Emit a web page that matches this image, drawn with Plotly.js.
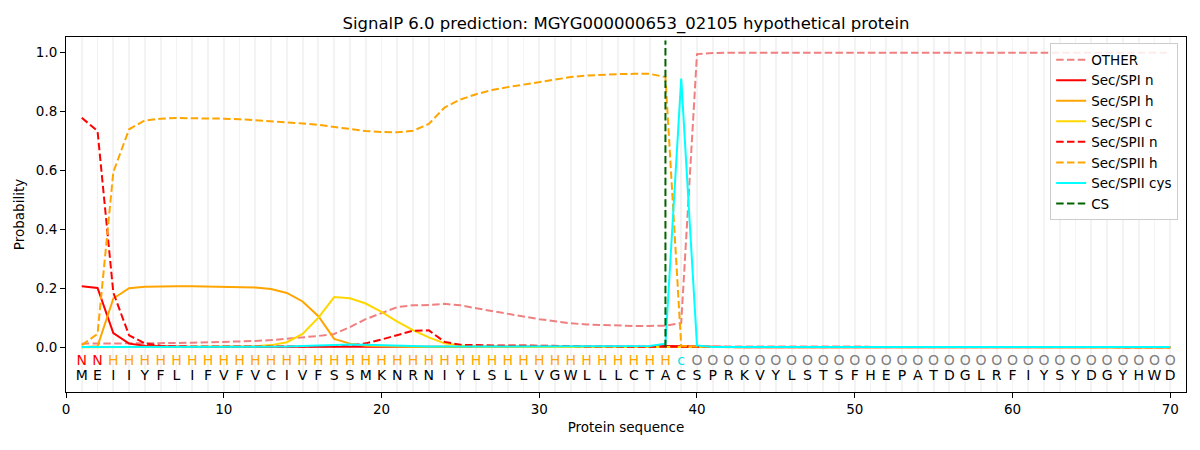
<!DOCTYPE html>
<html>
<head>
<meta charset="utf-8">
<script src="https://cdn.plot.ly/plotly-3.0.1.min.js"></script>
<style>html,body{margin:0;padding:0;background:#fff;}#chart{width:1200px;height:450px;}</style>
</head>
<body>
<div id="chart"></div>
<script>
const sequence = ["M","E","I","I","Y","F","L","I","F","V","F","V","C","I","V","F","S","S","M","K","N","R","N","I","Y","L","S","L","L","V","G","W","L","L","L","C","T","A","C","S","P","R","K","V","Y","L","S","T","S","F","H","E","P","A","T","D","G","L","R","F","I","Y","S","Y","D","G","Y","H","W","D"];
const regionLabels = ["N","N","H","H","H","H","H","H","H","H","H","H","H","H","H","H","H","H","H","H","H","H","H","H","H","H","H","H","H","H","H","H","H","H","H","H","H","H","c","O","O","O","O","O","O","O","O","O","O","O","O","O","O","O","O","O","O","O","O","O","O","O","O","O","O","O","O","O","O","O"];
const labelColors = {"N":"#ff0000","H":"#ffa500","c":"#00e5ee","O":"#808080"};

const other = [0.012,0.012,0.012,0.012,0.012,0.013,0.014,0.015,0.016,0.017,0.018,0.021,0.024,0.028,0.033,0.038,0.045,0.068,0.095,0.116,0.136,0.142,0.143,0.147,0.142,0.132,0.122,0.113,0.104,0.095,0.087,0.081,0.077,0.075,0.073,0.072,0.072,0.073,0.082,0.994,0.998,0.999,0.999,0.999,0.999,0.999,0.999,0.999,0.999,0.999,0.999,0.999,0.999,0.999,0.999,0.999,0.999,0.999,0.999,0.999,0.999,0.999,0.999,0.999,0.999,0.999,0.999,0.999,0.999,0.999];
const spiN = [0.207,0.201,0.048,0.012,0.005,0.003,0.002,0.001,0.001,0.001,0.001,0.001,0.001,0.001,0.001,0.001,0.001,0.001,0.001,0.001,0.001,0.001,0.001,0.001,0.001,0.001,0.001,0.001,0.001,0.001,0.001,0.001,0.001,0.001,0.001,0.001,0.002,0.004,0.003,0.001,0,0,0,0,0,0,0,0,0,0,0,0,0,0,0,0,0,0,0,0,0,0,0,0,0,0,0,0,0,0];
const spiH = [0.0,0.003,0.165,0.2,0.205,0.207,0.207,0.207,0.206,0.205,0.204,0.202,0.197,0.184,0.155,0.105,0.028,0.012,0.005,0.003,0.002,0.001,0.001,0.001,0.001,0.001,0.001,0.001,0.001,0.001,0.001,0.001,0.001,0.001,0.001,0.001,0.001,0.001,0,0,0,0,0,0,0,0,0,0,0,0,0,0,0,0,0,0,0,0,0,0,0,0,0,0,0,0,0,0,0,0];
const spiC = [0,0,0,0,0.001,0.001,0.001,0.001,0.001,0.001,0.002,0.003,0.007,0.017,0.045,0.1,0.17,0.166,0.148,0.12,0.087,0.058,0.033,0.013,0.006,0.003,0.002,0.001,0.001,0.001,0.001,0.001,0.001,0.001,0.001,0.001,0.001,0.001,0.001,0,0,0,0,0,0,0,0,0,0,0,0,0,0,0,0,0,0,0,0,0,0,0,0,0,0,0,0,0,0,0];
const spiiN = [0.778,0.733,0.185,0.04,0.013,0.005,0.003,0.002,0.002,0.002,0.002,0.002,0.002,0.002,0.002,0.002,0.003,0.006,0.013,0.026,0.04,0.056,0.057,0.018,0.008,0.006,0.006,0.006,0.006,0.006,0.006,0.004,0.002,0.002,0.002,0.002,0.002,0.002,0.001,0,0,0,0,0,0,0,0,0,0,0,0,0,0,0,0,0,0,0,0,0,0,0,0,0,0,0,0,0,0,0];
const spiiH = [0.007,0.045,0.594,0.739,0.769,0.775,0.777,0.777,0.776,0.775,0.773,0.77,0.767,0.764,0.759,0.754,0.747,0.739,0.733,0.73,0.729,0.734,0.757,0.813,0.84,0.858,0.872,0.882,0.891,0.9,0.909,0.916,0.921,0.924,0.926,0.927,0.927,0.916,0.005,0.002,0,0,0,0,0,0,0,0,0,0,0,0,0,0,0,0,0,0,0,0,0,0,0,0,0,0,0,0,0,0];
const spiiCys = [0.001,0.001,0.001,0.001,0.001,0.001,0.001,0.001,0.001,0.001,0.001,0.001,0.001,0.002,0.004,0.006,0.008,0.009,0.008,0.006,0.004,0.003,0.002,0.002,0.002,0.002,0.002,0.002,0.002,0.002,0.002,0.002,0.002,0.002,0.002,0.002,0.004,0.012,0.911,0.006,0.001,0.001,0.001,0.001,0.001,0.001,0.001,0.001,0.001,0.001,0.001,0.001,0.001,0.001,0.001,0.001,0.001,0.001,0.001,0.001,0.001,0.001,0.001,0.001,0.001,0.001,0.001,0.001,0.001,0.001];
const csPosition = 38;
const csTop = 1.04;

const positions = sequence.map((_, i) => i + 1);
const DASH = "7.5px,3.3px";

function line(name, y, color, dash) {
  return {x: positions, y: y, name: name, type: "scatter", mode: "lines",
    line: {color: color, width: 2, dash: dash || "solid"}, hoverinfo: "skip"};
}

const traces = [
  line("OTHER", other, "#f08080", DASH),
  line("Sec/SPI n", spiN, "#ff0000"),
  line("Sec/SPI h", spiH, "#ffa500"),
  line("Sec/SPI c", spiC, "#ffd700"),
  line("Sec/SPII n", spiiN, "#ff0000", DASH),
  line("Sec/SPII h", spiiH, "#ffa500", DASH),
  line("Sec/SPII cys", spiiCys, "#00ffff"),
  {x: [csPosition, csPosition], y: [0, csTop], name: "CS", type: "scatter", mode: "lines",
    line: {color: "#006400", width: 2, dash: DASH}, hoverinfo: "skip"},
  {x: positions, y: positions.map(() => -0.05), text: regionLabels, type: "scatter", mode: "text",
    textposition: "middle center", showlegend: false, hoverinfo: "skip",
    textfont: {family: "DejaVu Sans", size: 14, color: regionLabels.map(l => labelColors[l])}},
  {x: positions, y: positions.map(() => -0.10), text: sequence, type: "scatter", mode: "text",
    textposition: "middle center", showlegend: false, hoverinfo: "skip",
    textfont: {family: "DejaVu Sans", size: 14, color: "#000000"}}
];

const layout = {
  width: 1200, height: 450,
  margin: {l: 66, r: 14, t: 37, b: 58},
  paper_bgcolor: "#ffffff", plot_bgcolor: "#ffffff",
  font: {family: "DejaVu Sans", size: 13, color: "#000"},
  title: {text: "SignalP 6.0 prediction: MGYG000000653_02105 hypothetical protein",
    font: {family: "DejaVu Sans", size: 16.5, color: "#000"},
    x: 0.5, xref: "paper", xanchor: "center", y: 0.949, yref: "container", yanchor: "middle"},
  xaxis: {range: [0, 71], tick0: 0, dtick: 10, ticks: "outside", ticklen: 5, tickwidth: 1, tickcolor: "#000",
    showline: true, linecolor: "#000", linewidth: 1, mirror: true, zeroline: false,
    showgrid: true, gridcolor: "#f3f3f3", gridwidth: 1.8,
    minor: {dtick: 1, tick0: 0, showgrid: true, gridcolor: "#f3f3f3", gridwidth: 1.8, ticks: ""},
    tickfont: {size: 13.5},
    title: {text: "Protein sequence", font: {size: 13.5}, standoff: 6}},
  yaxis: {range: [-0.152, 1.052], tickvals: [0, 0.2, 0.4, 0.6, 0.8, 1.0], tickformat: ".1f",
    ticks: "outside", ticklen: 5, tickwidth: 1, tickcolor: "#000",
    showline: true, linecolor: "#000", linewidth: 1, mirror: true, zeroline: false, showgrid: false,
    tickfont: {size: 13.5},
    title: {text: "Probability", font: {size: 13.5}, standoff: 8}},
  legend: {x: 0.993, y: 0.982, xanchor: "right", yanchor: "top",
    bgcolor: "rgba(255,255,255,0.85)", bordercolor: "#cccccc", borderwidth: 1,
    font: {size: 13.5}, tracegroupgap: 0, itemwidth: 30},
  showlegend: true
};

Plotly.newPlot("chart", traces, layout, {displayModeBar: false, staticPlot: true});
</script>
</body>
</html>
